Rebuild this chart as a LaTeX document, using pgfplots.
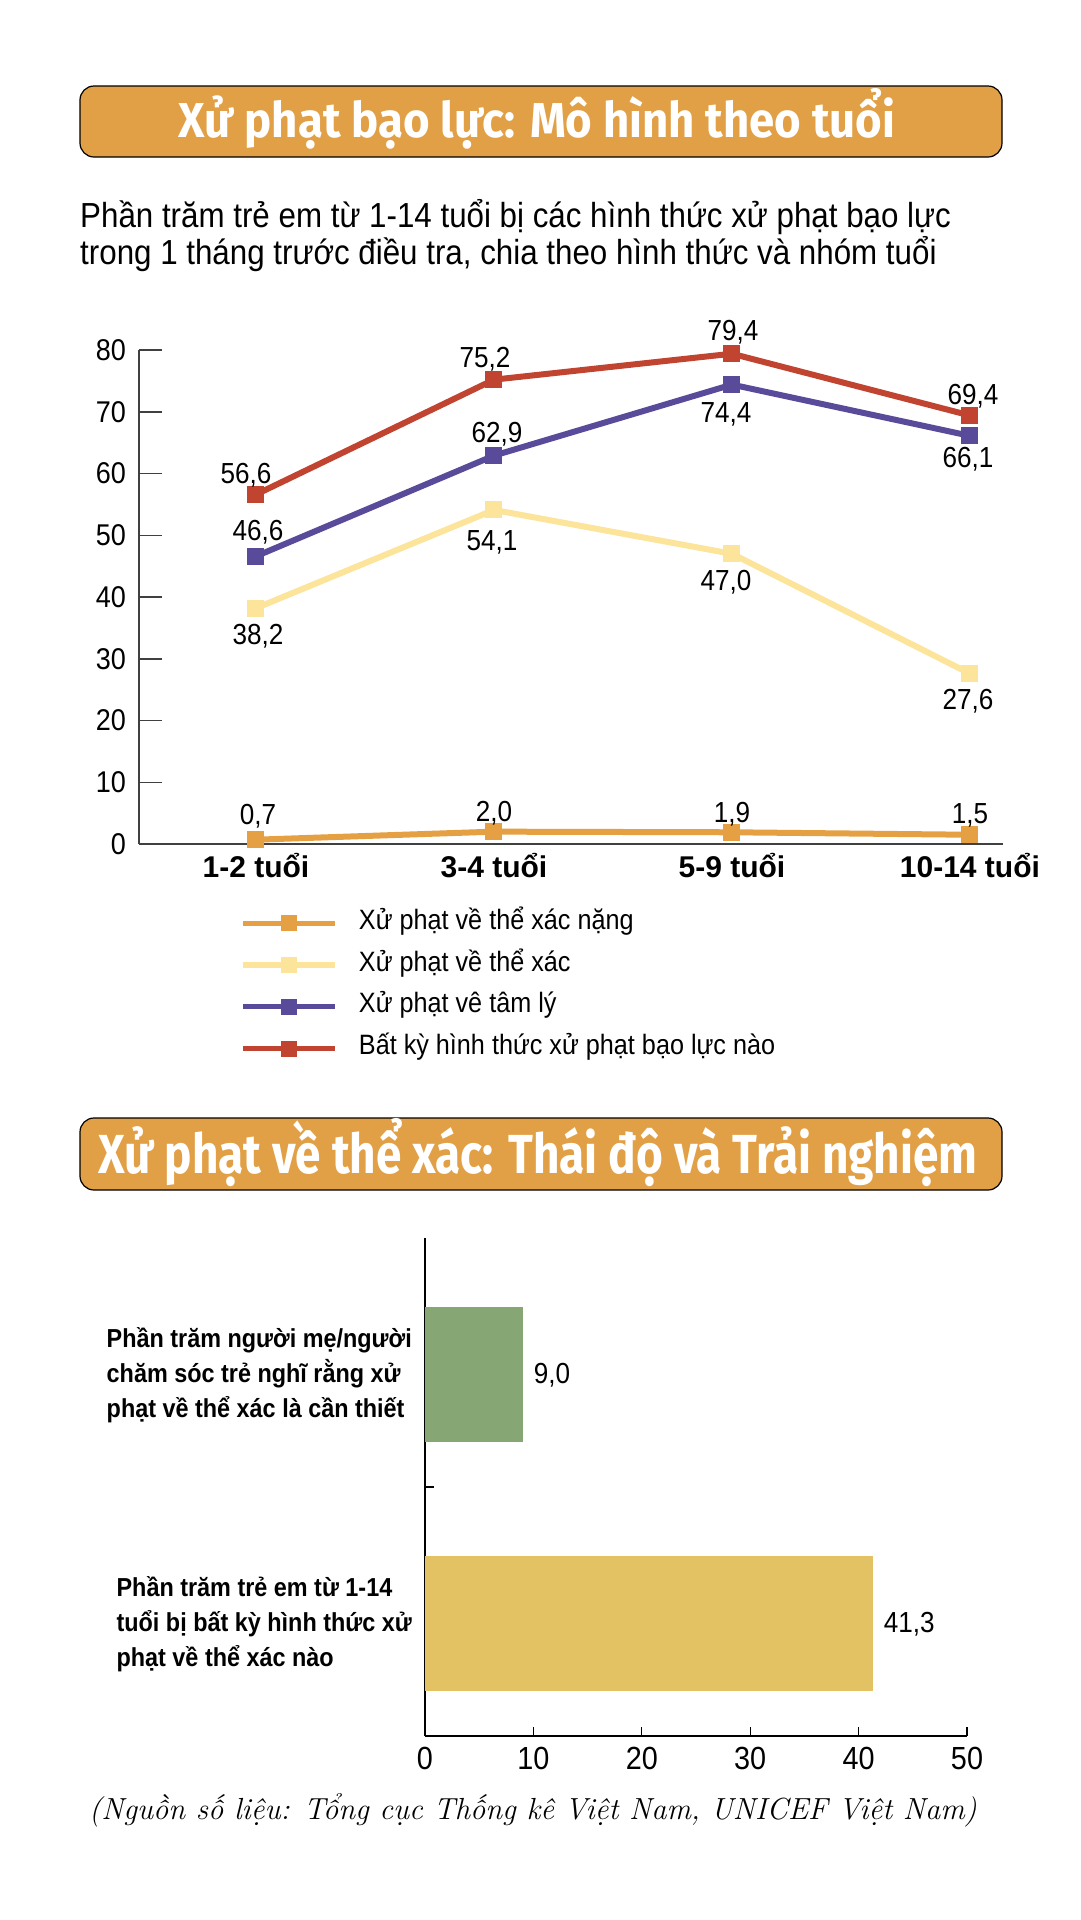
\documentclass[border=0pt]{standalone}
\usepackage{fontspec}
\usepackage{pgfplots}
\usepackage{pgfplotstable}
\pgfplotsset{compat=1.18}
\newfontfamily\lsans{Liberation Sans}[FakeStretch=0.9]
\newfontfamily\lsansw{Liberation Sans}
\newfontfamily\tfonta{Fira Sans}[FakeStretch=0.93]
\newfontfamily\tfontb{Fira Sans}[FakeStretch=0.835]

\definecolor{boxorange}{HTML}{E2A046}
\definecolor{corange}{HTML}{E5A043}
\definecolor{clight}{HTML}{FCE49A}
\definecolor{cpurple}{HTML}{5A4A9A}
\definecolor{cred}{HTML}{C04430}
\definecolor{cgreen}{HTML}{86A773}
\definecolor{cyellow}{HTML}{E3C263}

% x = age group (0..3), dx/dy = label offsets in pt
\pgfplotstableread{
x y dx dy
0 0.7 2 15
1 2.0 0 10
2 1.9 0 10
3 1.5 0 11
}\tblheavy
\pgfplotstableread{
x y dx dy
0 38.2 2 -36
1 54.1 -2 -41
2 47.0 -6 -37
3 27.6 -2 -36
}\tblphys
\pgfplotstableread{
x y dx dy
0 46.6 2 16
1 62.9 3 13
2 74.4 -6 -38
3 66.1 -2 -32
}\tblpsy
\pgfplotstableread{
x y dx dy
0 56.6 -10 11
1 75.2 -9 12
2 79.4 1 13
3 69.4 3 11
}\tblany

\pgfplotsset{
  lbl/.style={
    forget plot,
    nodes near coords={\pgfmathprintnumber[fixed,fixed zerofill,precision=1,use comma]{\pgfplotspointmeta}},
    visualization depends on={\thisrow{dx}\as\dx},
    visualization depends on={\thisrow{dy}\as\dy},
    every node near coord/.append style={anchor=base, inner sep=0pt, xshift=\dx, yshift=\dy,
      font=\lsans\fontsize{29}{29}\selectfont, text=black},
  },
  leg/.style={line width=5pt, mark=square*, mark size=5.5pt},
}

\begin{document}
\begin{tikzpicture}
\useasboundingbox (0pt,0pt) rectangle (1080pt,-1920pt);
\fill[white] (0pt,0pt) rectangle (1080pt,-1920pt);

% titles
\draw[fill=boxorange, rounded corners=14pt, line width=1.2pt] (80pt,-86pt) rectangle (1002pt,-157pt);
\node[anchor=base, text=white, font=\tfonta\bfseries\fontsize{49}{49}\selectfont] at (537pt,-137pt) {Xử phạt bạo lực: Mô hình theo tuổi};
\draw[fill=boxorange, rounded corners=14pt, line width=1.2pt] (80pt,-1118pt) rectangle (1002pt,-1190pt);
\node[anchor=base, text=white, font=\tfontb\bfseries\fontsize{55}{55}\selectfont] at (538pt,-1173pt) {Xử phạt về thể xác: Thái độ và Trải nghiệm};

% subtitle
\node[anchor=base west, inner sep=0pt, font=\lsans\fontsize{34.8}{34.8}\selectfont] at (80pt,-227pt) {Phần trăm trẻ em từ 1-14 tuổi bị các hình thức xử phạt bạo lực};
\node[anchor=base west, inner sep=0pt, font=\lsans\fontsize{34.8}{34.8}\selectfont] at (80pt,-264pt) {trong 1 tháng trước điều tra, chia theo hình thức và nhóm tuổi};

\begin{axis}[
  at={(139pt,-844pt)}, anchor=south west,
  scale only axis, width=864pt, height=494pt,
  xmin=-0.4916, xmax=3.139, ymin=0, ymax=80,
  axis x line*=bottom, axis y line*=left,
  axis line style={line width=1.8pt, black!75},
  xtick={0,1,2,3},
  xticklabels={1-2 tuổi, 3-4 tuổi, 5-9 tuổi, 10-14 tuổi},
  ytick={0,10,...,80},
  tick align=inside, major tick length=23pt,
  ytick style={line width=1.5pt, black!75},
  xtick style={draw=none},
  /pgf/number format/assume math mode=true,
  yticklabel style={font=\lsans\fontsize{30}{30}\selectfont, inner sep=0pt, xshift=-13pt},
  xticklabel style={font=\lsansw\bfseries\fontsize{30}{30}\selectfont, inner sep=0pt, anchor=base, yshift=-33pt},
  clip=false,
  every axis plot/.append style={line width=6pt, mark=square*, mark size=5.5pt, mark options={solid}},
  legend image code/.code={\draw[mark repeat=2,mark phase=2,#1] plot coordinates {(0pt,6pt) (46pt,6pt) (92pt,6pt)};},
  legend style={at={(axis description cs:0.118,-0.1194)}, anchor=north west, draw=none, fill=none,
    inner sep=0pt, outer sep=0pt, row sep=9pt, column sep=0pt,
    font=\lsans\fontsize{28}{28}\selectfont,
    nodes={inner sep=0pt, anchor=base west, text height=26pt, text depth=7pt},
    /tikz/every odd column/.append style={column sep=21pt}},
]
\addplot[color=corange, lbl] table[x=x, y=y] {\tblheavy};
\addplot[color=clight, lbl] table[x=x, y=y] {\tblphys};
\addplot[color=cpurple, lbl] table[x=x, y=y] {\tblpsy};
\addplot[color=cred, lbl] table[x=x, y=y] {\tblany};
\addlegendimage{leg, color=corange}
\addlegendentry{Xử phạt về thể xác nặng}
\addlegendimage{leg, color=clight}
\addlegendentry{Xử phạt về thể xác}
\addlegendimage{leg, color=cpurple}
\addlegendentry{Xử phạt vê tâm lý}
\addlegendimage{leg, color=cred}
\addlegendentry{Bất kỳ hình thức xử phạt bạo lực nào}
\end{axis}

\begin{axis}[
  at={(425pt,-1736pt)}, anchor=south west,
  scale only axis, width=542pt, height=498pt,
  xmin=0, xmax=50, ymin=-0.45, ymax=1.55,
  axis x line*=bottom, axis y line*=left,
  axis line style={line width=1.4pt, black},
  xbar, bar width=135pt, bar shift=0pt,
  xtick={0,10,...,50},
  ytick={0.55}, yticklabels={},
  extra y ticks={0,1},
  extra y tick labels={{Phần trăm trẻ em từ 1-14\\tuổi bị bất kỳ hình thức xử\\phạt về thể xác nào},
                       {Phần trăm người mẹ/người\\chăm sóc trẻ nghĩ rằng xử\\phạt về thể xác là cần thiết}},
  extra y tick style={tick style={draw=none}},
  tick align=inside, xtick align=inside, ytick align=inside, major tick length=9pt,
  tick style={line width=1.2pt, black},
  /pgf/number format/assume math mode=true,
  xticklabel style={font=\lsans\fontsize{32}{32}\selectfont, inner sep=0pt, yshift=-11pt},
  yticklabel style={font=\lsans\bfseries\fontsize{26}{35}\selectfont, align=left, inner sep=0pt, xshift=-13pt},
  point meta=x,
  nodes near coords={\pgfmathprintnumber[fixed,fixed zerofill,precision=1,use comma]{\pgfplotspointmeta}},
  every node near coord/.append style={font=\lsans\fontsize{29}{29}\selectfont, inner sep=0pt, xshift=11pt, text=black},
  clip=false,
]
\addplot[fill=cgreen, draw=none] coordinates {(9.0,1)};
\addplot[fill=cyellow, draw=none] coordinates {(41.3,0)};
\end{axis}

\node[anchor=base, font=\rmfamily\itshape\fontsize{30.5}{30.5}\selectfont] at (533pt,-1819pt) {(Nguồn số liệu: Tổng cục Thống kê Việt Nam, UNICEF Việt Nam)};
\end{tikzpicture}
\end{document}
